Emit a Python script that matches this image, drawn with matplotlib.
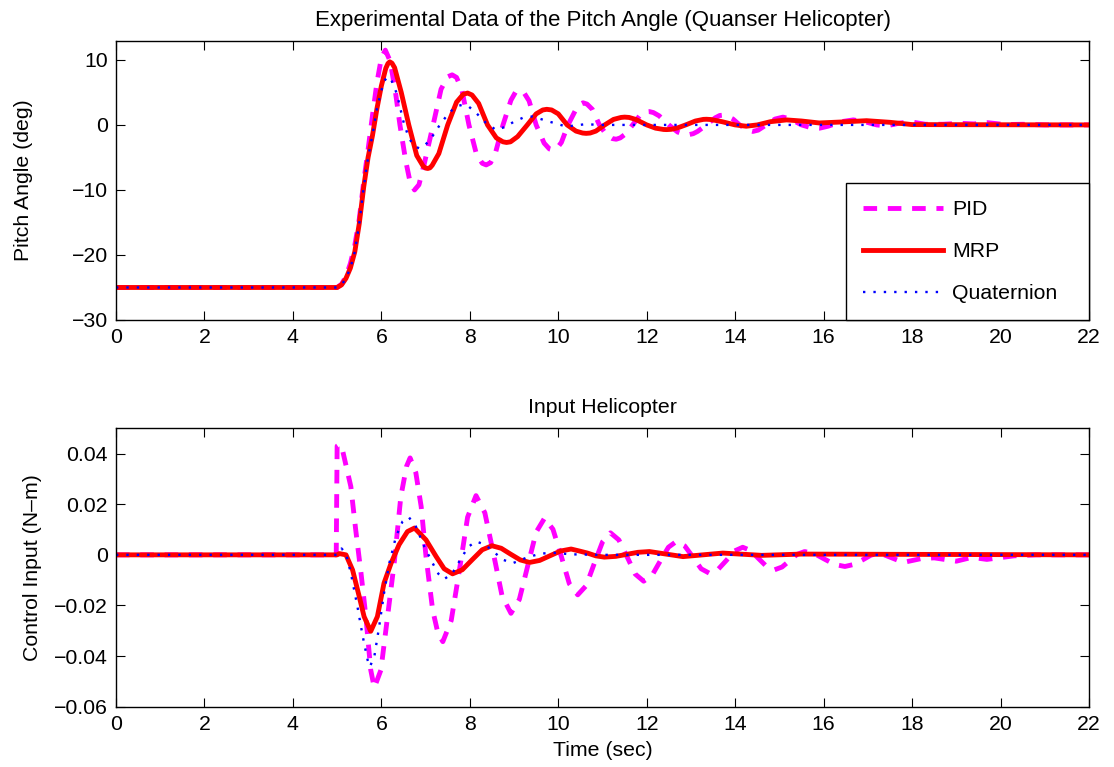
import matplotlib
matplotlib.use('Agg')
import matplotlib.pyplot as plt

plt.rcParams['font.family'] = ['Liberation Sans', 'DejaVu Sans']
plt.rcParams['font.size'] = 15.3

# ---- pitch angle (deg) ----
pid_t = [0, 5.0, 5.1, 5.2, 5.3, 5.4, 5.5, 5.6, 5.7, 5.8, 5.9, 6.0, 6.09, 6.2, 6.32, 6.42,
         6.55, 6.65, 6.75, 6.85, 6.97, 7.17, 7.35, 7.5, 7.6, 7.7, 7.82, 7.98, 8.15, 8.28,
         8.37, 8.47, 8.58, 8.75, 8.93, 9.03, 9.12, 9.22, 9.34, 9.5, 9.68, 9.8, 9.88, 9.97,
         10.07, 10.22, 10.4, 10.5, 10.56, 10.65, 10.77, 10.93, 11.1, 11.22, 11.31, 11.4,
         11.52, 11.68, 11.85, 11.97, 12.06, 12.15, 12.28, 12.5, 12.7, 12.85, 12.95, 13.05,
         13.15, 13.35, 13.55, 13.65, 13.72, 13.82, 13.95, 14.1, 14.28, 14.4, 14.52, 14.7,
         14.9, 15.08, 15.25, 15.5, 15.7, 15.91, 16.1, 16.4, 16.67, 16.95, 17.2, 17.42, 17.7,
         17.95, 18.3, 18.7, 19.08, 19.4, 19.7, 20.1, 20.5, 21.0, 22]
pid_pitch = [-25, -25, -24.5, -23.3, -21.3, -18.5, -14.5, -8.8, -3.8, 1.5, 6.5, 10.3, 11.5,
             9.8, 5.0, 0, -5.5, -8.8, -10.0, -9.2, -6.0, 0, 5.5, 7.4, 7.7, 7.3, 5.4, 0, -4.5,
             -5.9, -6.15, -5.8, -4.3, 0, 3.8, 5.0, 5.3, 5.0, 3.7, 0, -2.8, -3.7, -3.85, -3.6,
             -2.7, 0, 2.4, 3.2, 3.4, 3.2, 2.4, 0, -1.6, -2.1, -2.2, -2.0, -1.4, 0, 1.5, 2.0,
             2.05, 1.9, 1.4, 0, -1.1, -1.45, -1.5, -1.35, -1.0, 0, 1.1, 1.45, 1.5, 1.35, 0.9,
             0, -0.8, -1.0, -0.8, 0, 0.9, 1.2, 0.9, 0, -0.4, -0.5, -0.2, 0.5, 0.77, 0.45, 0,
             -0.15, 0.25, 0.5, 0.1, 0.1, 0.25, 0.15, 0.35, 0.05, 0.1, 0, 0]

mrp_t = [0, 5.0, 5.1, 5.2, 5.3, 5.4, 5.5, 5.6, 5.7, 5.8, 5.9, 6.0, 6.1, 6.15, 6.19, 6.24,
         6.3, 6.45, 6.62, 6.8, 6.95, 7.01, 7.05, 7.1, 7.15, 7.3, 7.5, 7.7, 7.85, 7.95, 8.05,
         8.2, 8.4, 8.6, 8.75, 8.83, 8.92, 9.08, 9.3, 9.5, 9.65, 9.74, 9.85, 10.0, 10.2, 10.4,
         10.55, 10.63, 10.72, 10.85, 11.05, 11.25, 11.42, 11.5, 11.6, 11.75, 12.0, 12.2,
         12.38, 12.45, 12.55, 12.7, 12.9, 13.1, 13.28, 13.35, 13.45, 13.7, 14.0, 14.25, 14.5,
         14.8, 15.16, 15.5, 15.9, 16.4, 16.97, 17.5, 18.0, 22]
mrp_pitch = [-25, -25, -24.6, -23.6, -22.0, -19.5, -15.2, -9.6, -5.0, -1.6, 2.5, 6.0, 8.7,
             9.45, 9.7, 9.5, 8.8, 5.0, 0, -4.7, -6.4, -6.65, -6.7, -6.6, -6.2, -4.4, 0, 3.5,
             4.7, 4.9, 4.6, 3.3, 0, -2.0, -2.6, -2.7, -2.6, -1.8, 0, 1.7, 2.3, 2.4, 2.3, 1.7,
             0, -0.95, -1.25, -1.3, -1.25, -0.95, 0, 0.85, 1.15, 1.2, 1.15, 0.85, 0, -0.5,
             -0.7, -0.72, -0.68, -0.45, 0.05, 0.6, 0.85, 0.87, 0.83, 0.5, 0.0, -0.2, 0.0, 0.5,
             0.77, 0.6, 0.3, 0.45, 0.65, 0.4, 0.05, 0]

quat_t = [0, 5.0, 5.1, 5.2, 5.3, 5.4, 5.5, 5.6, 5.7, 5.8, 5.9, 6.0, 6.07, 6.14, 6.22, 6.35,
          6.5, 6.62, 6.75, 6.86, 6.98, 7.15, 7.35, 7.55, 7.72, 7.84, 7.98, 8.15, 8.35, 8.59,
          8.8, 9.0, 9.2, 9.42, 9.7, 10.18, 10.6, 11.0, 22]
quat_pitch = [-25, -25, -24.6, -23.6, -22.0, -19.5, -15.2, -9.6, -5.0, -1.5, 2.5, 5.3, 6.8,
              7.4, 7.0, 4.8, 0.5, -2.0, -3.3, -3.6, -3.2, -1.8, 0.3, 2.0, 2.9, 3.1, 2.8, 1.8,
              0.4, -0.77, -0.3, 0.5, 1.1, 1.3, 0.7, -0.25, 0.1, 0, 0]

# ---- control input (N-m) ----
pid_ut = [0, 4.98, 5.0, 5.05, 5.12, 5.31, 5.42, 5.54, 5.65, 5.76, 5.84, 5.99, 6.14, 6.29,
          6.44, 6.57, 6.65, 6.78, 6.9, 7.01, 7.16, 7.28, 7.39, 7.58, 7.77, 7.95, 8.14, 8.34,
          8.54, 8.73, 8.93, 9.12, 9.31, 9.5, 9.69, 9.88, 10.07, 10.25, 10.44, 10.63, 10.81,
          11.0, 11.18, 11.37, 11.56, 11.74, 11.93, 12.12, 12.3, 12.49, 12.67, 12.86, 13.05,
          13.23, 13.42, 13.61, 13.8, 13.98, 14.17, 14.35, 14.53, 14.71, 14.89, 15.06, 15.23,
          15.4, 15.57, 15.8, 16.02, 16.25, 16.48, 16.68, 16.88, 17.07, 17.27, 17.8, 18.2,
          18.5, 19.0, 19.35, 19.69, 20.3, 20.8, 22]
pid_u = [0, 0, 0.043, 0.0436, 0.0415, 0.027, 0.0099, -0.0072, -0.0244, -0.0455, -0.0525,
         -0.0455, -0.0244, -0.0033, 0.023, 0.035, 0.0383, 0.0324, 0.0191, -0.0007, -0.0218,
         -0.031, -0.0343, -0.0259, -0.0055, 0.0149, 0.0234, 0.0166, 0.0, -0.0163, -0.0231,
         -0.0176, -0.0043, 0.009, 0.0145, 0.0101, -0.0007, -0.0114, -0.0158, -0.0122, -0.0036,
         0.0051, 0.0087, 0.0059, -0.0009, -0.0076, -0.0104, -0.0081, -0.0026, 0.003, 0.0053,
         0.0035, -0.001, -0.0055, -0.0073, -0.0058, -0.0022, 0.0015, 0.003, 0.0017, -0.0015,
         -0.0046, -0.0059, -0.0048, -0.0023, 0.0002, 0.0013, 0.0004, -0.0017, -0.0038,
         -0.0046, -0.0038, -0.002, -0.0001, 0.0007, -0.003, -0.0015, -0.0012, -0.0025, -0.001,
         -0.0018, -0.0004, 0, 0]

mrp_ut = [0, 5.0, 5.05, 5.2, 5.35, 5.5, 5.61, 5.76, 5.91, 6.06, 6.22, 6.4, 6.59, 6.75, 7.01,
          7.24, 7.42, 7.61, 7.83, 8.05, 8.28, 8.5, 8.71, 8.92, 9.14, 9.35, 9.58, 9.82, 10.05,
          10.29, 10.48, 10.66, 10.85, 11.04, 11.3, 11.55, 11.8, 12.06, 12.44, 12.82, 13.27,
          13.72, 14.6, 15.5, 22]
mrp_u = [0, 0, 0.0005, 0, -0.006, -0.0165, -0.0244, -0.0302, -0.0244, -0.0112, -0.0033,
         0.004, 0.0092, 0.0106, 0.0059, -0.0007, -0.0055, -0.0075, -0.0059, -0.002, 0.002,
         0.0036, 0.0026, 0.0003, -0.002, -0.003, -0.0022, -0.0003, 0.0015, 0.0023, 0.0015,
         0.0007, -0.0004, -0.0009, -0.0006, 0.0002, 0.001, 0.0013, 0.0003, -0.0007, 0.0,
         0.0007, -0.0002, 0.0003, 0]

quat_ut = [0, 5.0, 5.1, 5.2, 5.31, 5.46, 5.58, 5.69, 5.74, 5.84, 5.95, 6.06, 6.18, 6.33,
           6.48, 6.62, 6.78, 6.97, 7.16, 7.29, 7.42, 7.6, 7.78, 7.96, 8.14, 8.35, 8.55, 8.76,
           8.97, 9.3, 9.6, 9.9, 10.3, 11.0, 22]
quat_u = [0, 0, 0.0025, 0.0005, -0.0072, -0.0205, -0.0323, -0.0416, -0.0442, -0.0403,
          -0.0284, -0.0152, -0.0033, 0.0072, 0.0132, 0.0149, 0.0112, 0.0033, -0.0033, -0.0075,
          -0.0096, -0.0074, -0.0021, 0.0031, 0.0053, 0.004, 0.001, -0.002, -0.0033, -0.001,
          0.0005, 0.0008, 0.0002, 0, 0]

x_ticks = list(range(0, 23, 2))
pitch_ticks = [-30, -20, -10, 0, 10]
u_ticks = [-0.06, -0.04, -0.02, 0, 0.02, 0.04]
u_tick_labels = ['\u22120.06', '\u22120.04', '\u22120.02', '0', '0.02', '0.04']
pitch_tick_labels = ['\u221230', '\u221220', '\u221210', '0', '10']

fig = plt.figure(figsize=(11.14, 7.67), dpi=100)
ax1 = fig.add_axes([0.1041, 0.5828, 0.8735, 0.3637])
ax2 = fig.add_axes([0.1041, 0.0786, 0.8735, 0.3630])

pid_style = dict(color='#FF00FF', lw=3.5, linestyle=(0, (2.8, 2.2)))
mrp_style = dict(color='#FF0000', lw=3.5, linestyle='-')
quat_style = dict(color='#0000FF', lw=1.7, linestyle=(0, (1, 3.4)))

ax1.plot(pid_t, pid_pitch, label='PID', **pid_style)
ax1.plot(mrp_t, mrp_pitch, label='MRP', **mrp_style)
ax1.plot(quat_t, quat_pitch, label='Quaternion', **quat_style)

ax2.plot(pid_ut, pid_u, **pid_style)
ax2.plot(mrp_ut, mrp_u, **mrp_style)
ax2.plot(quat_ut, quat_u, **quat_style)

for ax in (ax1, ax2):
    ax.set_xlim(0, 22)
    ax.set_xticks(x_ticks)
    ax.tick_params(direction='in', length=6.5, width=0.8, top=True, right=True, pad=6,
                   labelsize=15.3)
    for s in ax.spines.values():
        s.set_linewidth(1.0)

ax1.set_ylim(-30, 12.9)
ax1.set_yticks(pitch_ticks)
ax1.set_yticklabels(pitch_tick_labels)
ax1.set_title('Experimental Data of the Pitch Angle (Quanser Helicopter)', fontsize=16, pad=11)
ax1.set_ylabel('Pitch Angle (deg)', fontsize=15.3)
ax1.yaxis.set_label_coords(-0.085, 0.5)

ax2.set_ylim(-0.06, 0.05)
ax2.set_yticks(u_ticks)
ax2.set_yticklabels(u_tick_labels)
ax2.set_title('Input Helicopter', fontsize=15.3, pad=11)
ax2.set_ylabel('Control Input (N\u2013m)', fontsize=15.3)
ax2.yaxis.set_label_coords(-0.076, 0.5)
ax2.set_xlabel('Time (sec)', fontsize=15.3, labelpad=5)

leg = ax1.legend(loc='lower left', bbox_to_anchor=(0.7503, 0.0, 0.2497, 0.3), mode='expand',
                 borderaxespad=0, fancybox=False, framealpha=1, edgecolor='black',
                 handlelength=3.76, handletextpad=0.42, borderpad=0.8, labelspacing=1.08,
                 fontsize=15.3)
leg.get_frame().set_linewidth(1.0)

fig.savefig('out.png', dpi=100)
